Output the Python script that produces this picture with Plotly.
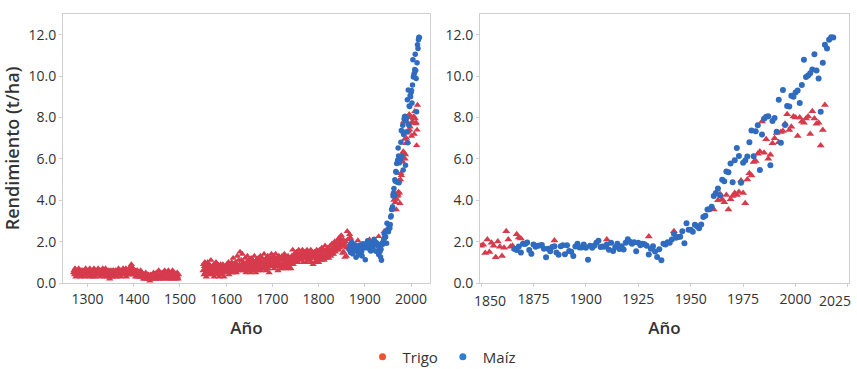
import plotly.graph_objects as go

# ---------------- DATA (t/ha) ----------------
# Trigo (wheat), annual 1270-1497
wheat_medieval_start = 1270
wheat_medieval = [
    0.5, 0.6, 0.4, 0.7, 0.5, 0.3, 0.6, 0.5, 0.4, 0.6,
    0.5, 0.7, 0.4, 0.5, 0.6, 0.3, 0.5, 0.6, 0.4, 0.5,
    0.6, 0.4, 0.5, 0.3, 0.6, 0.5, 0.7, 0.4, 0.5, 0.6,
    0.4, 0.5, 0.6, 0.3, 0.5, 0.7, 0.4, 0.6, 0.5, 0.4,
    0.6, 0.3, 0.5, 0.4, 0.7, 0.5, 0.3, 0.5, 0.6, 0.4,
    0.5, 0.6, 0.4, 0.7, 0.5, 0.4, 0.6, 0.3, 0.5, 0.6,
    0.4, 0.6, 0.5, 0.7, 0.4, 0.5, 0.6, 0.3, 0.5, 0.7,
    0.5, 0.4, 0.6, 0.3, 0.5, 0.6, 0.4, 0.5, 0.2, 0.6,
    0.4, 0.5, 0.3, 0.6, 0.4, 0.5, 0.6, 0.3, 0.5, 0.4,
    0.6, 0.4, 0.5, 0.3, 0.6, 0.5, 0.4, 0.7, 0.5, 0.4,
    0.5, 0.6, 0.3, 0.5, 0.4, 0.6, 0.5, 0.7, 0.4, 0.5,
    0.6, 0.4, 0.5, 0.7, 0.3, 0.5, 0.6, 0.4, 0.6, 0.5,
    0.7, 0.5, 0.6, 0.4, 0.8, 0.9, 0.5, 0.6, 0.4, 0.7,
    0.5, 0.6, 0.4, 0.5, 0.3, 0.6, 0.5, 0.4, 0.6, 0.3,
    0.5, 0.4, 0.3, 0.5, 0.4, 0.6, 0.3, 0.4, 0.5, 0.3,
    0.4, 0.2, 0.3, 0.4, 0.2, 0.3, 0.5, 0.2, 0.3, 0.4,
    0.2, 0.3, 0.4, 0.2, 0.3, 0.1, 0.4, 0.3, 0.2, 0.3,
    0.4, 0.2, 0.3, 0.5, 0.2, 0.3, 0.4, 0.2, 0.3, 0.5,
    0.3, 0.4, 0.2, 0.3, 0.6, 0.3, 0.2, 0.4, 0.3, 0.5,
    0.2, 0.4, 0.3, 0.5, 0.3, 0.2, 0.4, 0.6, 0.3, 0.4,
    0.3, 0.5, 0.2, 0.4, 0.3, 0.6, 0.4, 0.2, 0.3, 0.5,
    0.4, 0.2, 0.3, 0.5, 0.6, 0.3, 0.4, 0.2, 0.5, 0.3,
    0.4, 0.3, 0.2, 0.4, 0.5, 0.3, 0.2, 0.4,
]

# Trigo, annual 1550-1849
wheat_early_modern_start = 1550
wheat_early_modern = [
    0.6, 0.9, 0.4, 0.8, 1.0, 0.5, 0.7, 0.3, 0.8, 0.6,
    1.0, 0.5, 0.7, 0.9, 0.4, 0.6, 0.8, 1.1, 0.5, 0.7,
    0.4, 0.8, 0.6, 0.9, 0.3, 0.7, 0.5, 0.8, 1.0, 0.6,
    0.7, 0.4, 0.9, 0.6, 0.8, 0.3, 0.7, 0.5, 0.9, 0.6,
    0.8, 0.5, 0.4, 0.9, 0.7, 0.3, 0.6, 0.8, 0.5, 0.7,
    0.6, 0.9, 0.5, 0.8, 0.7, 1.0, 0.4, 0.8, 0.6, 0.9,
    0.7, 0.5, 1.0, 0.6, 0.8, 1.2, 0.5, 0.9, 0.7, 0.6,
    1.0, 0.7, 0.5, 0.9, 1.3, 0.6, 0.8, 1.1, 0.7, 0.9,
    1.5, 0.8, 0.6, 1.1, 0.9, 1.4, 0.7, 1.0, 0.8, 0.6,
    0.9, 1.2, 0.7, 0.5, 1.0, 0.8, 1.3, 0.6, 0.9, 1.1,
    0.7, 1.0, 0.8, 0.5, 1.2, 0.9, 0.7, 1.1, 0.6, 1.0,
    0.8, 1.3, 0.7, 0.9, 0.5, 1.1, 0.8, 1.0, 0.6, 1.2,
    0.9, 0.7, 1.1, 0.8, 1.3, 0.6, 1.0, 0.9, 1.2, 0.7,
    1.0, 0.8, 1.4, 0.7, 1.1, 0.9, 0.6, 1.2, 1.0, 0.8,
    1.3, 0.7, 1.0, 0.5, 1.1, 0.9, 1.2, 0.8, 1.4, 1.0,
    0.8, 1.1, 1.3, 0.9, 0.7, 1.2, 1.0, 1.4, 0.8, 1.1,
    0.9, 1.2, 0.6, 1.0, 1.3, 0.8, 1.1, 0.9, 1.2, 0.7,
    1.1, 1.3, 0.9, 0.7, 1.2, 1.0, 1.4, 0.8, 1.1, 1.3,
    0.9, 1.2, 1.0, 0.7, 1.3, 1.1, 0.8, 1.0, 1.2, 0.9,
    0.7, 1.1, 1.3, 1.0, 1.6, 0.9, 1.2, 1.4, 1.0, 1.1,
    1.3, 1.1, 1.5, 1.2, 1.4, 1.0, 1.3, 1.6, 1.2, 1.4,
    1.1, 1.3, 1.5, 1.2, 1.4, 1.6, 1.3, 1.0, 1.4, 1.2,
    1.5, 1.2, 1.3, 1.0, 1.4, 1.6, 1.1, 1.3, 1.5, 1.2,
    1.4, 1.1, 1.3, 1.6, 1.0, 1.2, 1.5, 1.3, 0.9, 1.4,
    1.2, 1.5, 1.3, 1.0, 1.4, 1.1, 1.6, 1.3, 1.2, 1.5,
    1.0, 1.3, 1.6, 1.2, 1.4, 1.1, 1.5, 1.7, 1.3, 1.2,
    1.6, 1.3, 1.1, 1.5, 1.8, 1.4, 1.2, 1.6, 1.3, 1.5,
    1.7, 1.4, 1.2, 1.6, 1.5, 1.8, 1.3, 1.6, 1.4, 1.9,
    1.5, 1.7, 1.4, 1.9, 1.6, 2.0, 1.5, 1.8, 1.7, 1.6,
    1.9, 1.7, 2.1, 1.6, 1.8, 2.2, 1.7, 2.0, 1.9, 2.3,
]

# Trigo, annual 1850-1870
wheat_1850_start = 1850
wheat_1850 = [1.80, 1.85, 1.45, 2.10, 1.50, 1.95, 1.80, 1.25, 2.00, 1.75,
              1.30, 1.70, 2.50, 2.10, 1.75, 1.80, 1.65, 2.35, 2.20, 2.15, 1.90]

# Trigo, scattered years 1871-1960
wheat_sparse_years = [1885, 1910, 1930, 1942]
wheat_sparse = [2.05, 2.10, 2.25, 2.50]

# Trigo, annual 1961-2014
wheat_modern_start = 1961
wheat_modern = [
    3.55, 4.35, 4.00, 4.30, 4.05, 3.90, 4.25, 3.55, 4.05,
    4.20, 4.35, 4.25, 4.40, 4.95, 4.35, 3.85, 5.00, 5.30, 5.20,
    5.85, 5.90, 6.25, 6.35, 7.80, 6.30, 6.95, 6.00, 6.20, 6.75,
    7.00, 7.25, 6.80, 7.30, 7.35, 7.70, 8.15, 7.40, 7.55, 8.05,
    8.00, 7.10, 8.00, 7.80, 7.75, 7.95, 8.05, 7.20, 8.30, 7.95,
    7.70, 7.75, 6.65, 7.40, 8.60,
]

# Maíz (maize), annual 1866-2018
maize_start = 1866
maize = [
    1.64, 1.59, 1.76, 1.47,
    1.90, 1.88, 1.96, 1.60, 1.41, 1.86, 1.75, 1.80, 1.81, 1.84,
    1.66, 1.25, 1.66, 1.53, 1.74, 1.78, 1.48, 1.37, 1.77, 1.82,
    1.39, 1.82, 1.55, 1.51, 1.31, 1.76, 1.90, 1.71, 1.71, 1.86,
    1.70, 1.12, 1.80, 1.70, 1.80, 1.94, 2.04, 1.74, 1.76, 1.75,
    1.86, 1.61, 1.94, 1.55, 1.74, 1.90, 1.64, 1.77, 1.62, 1.94,
    2.12, 1.99, 1.90, 1.97, 1.54, 1.94, 1.82, 1.90, 1.87, 1.80,
    1.38, 1.65, 1.78, 1.52, 1.26, 1.63, 1.10, 1.90, 1.86, 1.97,
    1.94, 2.10, 2.38, 2.19, 2.22, 2.23, 2.50, 1.92, 2.89, 2.57,
    2.57, 2.48, 2.81, 2.74, 2.65, 2.83, 3.19, 3.25, 3.55, 3.57,
    3.68, 4.20, 4.35, 4.57, 4.23, 4.99, 4.92, 5.39, 5.35, 5.78,
    4.87, 5.93, 6.53, 6.14, 4.84, 5.81, 5.92, 6.11, 6.80, 7.37,
    6.12, 7.33, 7.62, 5.46, 7.18, 7.94, 8.04, 8.06, 5.69, 7.83,
    7.97, 7.31, 8.85, 6.78, 9.33, 7.64, 8.55, 8.53, 9.05, 9.00,
    9.21, 9.30, 8.70, 9.57, 10.79, 9.95, 10.03, 10.14, 10.32, 11.06,
    10.27, 9.88, 8.28, 10.64, 11.51, 11.33, 11.75, 11.88, 11.87,
]

series_names = ["Trigo", "Maíz"]
left_xticks = [1300, 1400, 1500, 1600, 1700, 1800, 1900, 2000]
right_xticks = [1850, 1875, 1900, 1925, 1950, 1975, 2000, 2025]
y_ticks = [0, 2, 4, 6, 8, 10, 12]

# ---------------- BUILD ----------------
def years(start, vals):
    return list(range(start, start + len(vals)))

wheat_x_long = (years(wheat_medieval_start, wheat_medieval)
                + years(wheat_early_modern_start, wheat_early_modern)
                + years(wheat_1850_start, wheat_1850)
                + wheat_sparse_years
                + years(wheat_modern_start, wheat_modern))
wheat_y_long = wheat_medieval + wheat_early_modern + wheat_1850 + wheat_sparse + wheat_modern

wheat_x_short = (years(wheat_1850_start, wheat_1850) + wheat_sparse_years
                 + years(wheat_modern_start, wheat_modern))
wheat_y_short = wheat_1850 + wheat_sparse + wheat_modern

maize_x = years(maize_start, maize)

RED = "#d63b4c"
BLUE = "#2f6bbf"
LEG_RED = "#e8552f"
LEG_BLUE = "#2e7fd2"
FONT = "Open Sans"
TXT = "#333333"

fig = go.Figure()

# left panel
fig.add_trace(go.Scatter(x=wheat_x_long, y=wheat_y_long, mode="markers", name=series_names[0],
                         legendgroup="w", showlegend=False,
                         marker=dict(symbol="triangle-up", size=6.5, color=RED),
                         xaxis="x", yaxis="y"))
fig.add_trace(go.Scatter(x=maize_x, y=maize, mode="markers", name=series_names[1],
                         legendgroup="m", showlegend=False,
                         marker=dict(symbol="circle", size=5.5, color=BLUE),
                         xaxis="x", yaxis="y"))
# right panel
fig.add_trace(go.Scatter(x=wheat_x_short, y=wheat_y_short, mode="markers", name=series_names[0],
                         legendgroup="w", showlegend=False,
                         marker=dict(symbol="triangle-up", size=7, color=RED),
                         xaxis="x2", yaxis="y2"))
fig.add_trace(go.Scatter(x=maize_x, y=maize, mode="markers", name=series_names[1],
                         legendgroup="m", showlegend=False,
                         marker=dict(symbol="circle", size=6, color=BLUE),
                         xaxis="x2", yaxis="y2"))
# legend entries (circle swatches)
fig.add_trace(go.Scatter(x=[None], y=[None], mode="markers", name=series_names[0],
                         legendgroup="w", marker=dict(symbol="circle", size=7, color=LEG_RED),
                         xaxis="x2", yaxis="y2"))
fig.add_trace(go.Scatter(x=[None], y=[None], mode="markers", name=series_names[1],
                         legendgroup="m", marker=dict(symbol="circle", size=7, color=LEG_BLUE),
                         xaxis="x2", yaxis="y2"))

W, H = 857, 369
ydom = [(H - 283) / H, (H - 14) / H]

axis_common = dict(showline=True, mirror=True, linecolor="#cfcfcf", linewidth=1,
                   showgrid=False, zeroline=False, ticks="outside", ticklen=3,
                   tickcolor="#cfcfcf", tickfont=dict(family=FONT, size=14, color=TXT))

fig.update_layout(
    width=W, height=H,
    margin=dict(l=0, r=0, t=0, b=0, autoexpand=False),
    paper_bgcolor="white", plot_bgcolor="white",
    font=dict(family=FONT, color=TXT),
    xaxis=dict(axis_common, domain=[63 / W, 430 / W], range=[1247, 2041],
               tickvals=left_xticks, anchor="y",
               title=dict(text="Año", font=dict(family=FONT, size=17, color=TXT, weight=600))),
    yaxis=dict(axis_common, domain=ydom, range=[0, 13], tickvals=y_ticks, tickformat=".1f",
               anchor="x",
               title=dict(text="Rendimiento (t/ha)", standoff=4,
                          font=dict(family=FONT, size=18, color=TXT, weight=600))),
    xaxis2=dict(axis_common, domain=[480 / W, 849 / W], range=[1849.5, 2025.5],
                tickvals=right_xticks, ticktext=[""] + [str(v) for v in right_xticks[1:-1]] + [""],
                anchor="y2",
                title=dict(text="Año", font=dict(family=FONT, size=17, color=TXT, weight=600))),
    yaxis2=dict(axis_common, domain=ydom, range=[0, 13], tickvals=y_ticks, tickformat=".1f",
                anchor="x2"),
    legend=dict(orientation="h", x=442 / W, xanchor="center", xref="container",
                y=12 / H, yanchor="middle", yref="container",
                font=dict(family=FONT, size=15, color=TXT), itemwidth=30,
                bgcolor="rgba(0,0,0,0)"),
)

# end labels of the right axis kept inside the frame (as in the reference)
for val, shift in [(right_xticks[0], 9), (right_xticks[-1], -13)]:
    fig.add_annotation(x=val, xref="x2", y=(H - 300) / H, yref="paper", text=str(val),
                       showarrow=False, xshift=shift, yanchor="middle",
                       font=dict(family=FONT, size=14, color=TXT))

fig.write_html("out.html")
